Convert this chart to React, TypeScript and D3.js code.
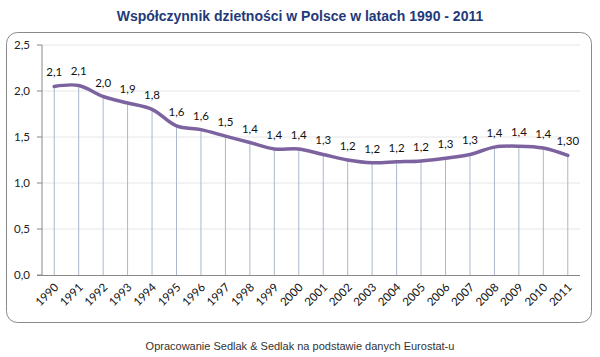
import React from "react";
import * as d3 from "d3";

const years = ["1990","1991","1992","1993","1994","1995","1996","1997","1998","1999","2000","2001","2002","2003","2004","2005","2006","2007","2008","2009","2010","2011"];
const values = [2.05,2.06,1.94,1.87,1.80,1.62,1.58,1.51,1.44,1.37,1.37,1.31,1.25,1.22,1.23,1.24,1.27,1.31,1.39,1.40,1.38,1.30];
const valueLabels = ["2,1","2,1","2,0","1,9","1,8","1,6","1,6","1,5","1,4","1,4","1,4","1,3","1,2","1,2","1,2","1,2","1,3","1,3","1,4","1,4","1,4","1,30"];
const yTicks = [0, 0.5, 1, 1.5, 2, 2.5];

const W = 600, H = 357;
const left = 42, right = 580, top = 45, bottom = 275;

export default function App() {
  const x = d3.scaleBand<string>().domain(years).range([left, right]);
  const y = d3.scaleLinear().domain([0, 2.5]).range([bottom, top]);
  const cx = (d: string) => (x(d) ?? 0) + x.bandwidth() / 2;
  const line = d3.line<number>()
    .x((_, i) => cx(years[i]))
    .y((v) => y(v))
    .curve(d3.curveCatmullRom.alpha(0.5));
  const fmt = (v: number) => v.toFixed(1).replace(".", ",");
  const font = "Lato, 'Open Sans', sans-serif";
  return (
    <svg width={W} height={H} style={{ position: "absolute", left: 0, top: 0, background: "#fff" }}>
      <text x={300} y={21} textAnchor="middle" fontFamily="'Liberation Sans', Arial, sans-serif" fontWeight="bold" fontSize={14} fill="#1F3A7A">
        Współczynnik dzietności w Polsce w latach 1990 - 2011
      </text>
      <rect x={6.5} y={32.5} width={585} height={290} rx={11} fill="#fff" stroke="#8a8a8a" strokeWidth={1} />
      {yTicks.map((t) => (
        <g key={t}>
          {t > 0 && <line x1={left} x2={right} y1={y(t)} y2={y(t)} stroke="#e6e6e6" />}
          <line x1={left - 5} x2={left} y1={y(t)} y2={y(t)} stroke="#888" />
          <text x={left - 12} y={y(t) + 4} textAnchor="end" fontFamily={font} fontSize={11.5} fill="#222">{fmt(t)}</text>
        </g>
      ))}
      {years.map((yr, i) => (
        <line key={"d" + yr} x1={cx(yr)} x2={cx(yr)} y1={y(values[i])} y2={bottom} stroke="#aab8cc" strokeWidth={1} />
      ))}
      <line x1={left} x2={left} y1={top} y2={bottom} stroke="#888" />
      <line x1={left - 5} x2={right} y1={bottom + 0.5} y2={bottom + 0.5} stroke="#888" />
      <path d={line(values) ?? ""} fill="none" stroke="#7d62a0" strokeWidth={3.5} strokeLinejoin="round" strokeLinecap="round" />
      {years.map((yr, i) => (
        <text key={"l" + yr} x={cx(yr)} y={y(values[i]) - 10} textAnchor="middle" fontFamily={font} fontSize={11.5} fill="#111">{valueLabels[i]}</text>
      ))}
      {years.map((yr) => (
        <text key={"x" + yr} transform={`translate(${cx(yr) + 5},${bottom + 13}) rotate(-45)`} textAnchor="end" fontFamily={font} fontSize={11.5} fill="#111">{yr}</text>
      ))}
      <text x={300} y={350} textAnchor="middle" fontFamily="'Liberation Sans', Arial, sans-serif" fontSize={11} fill="#333">
        Opracowanie Sedlak &amp; Sedlak na podstawie danych Eurostat-u
      </text>
    </svg>
  );
}
